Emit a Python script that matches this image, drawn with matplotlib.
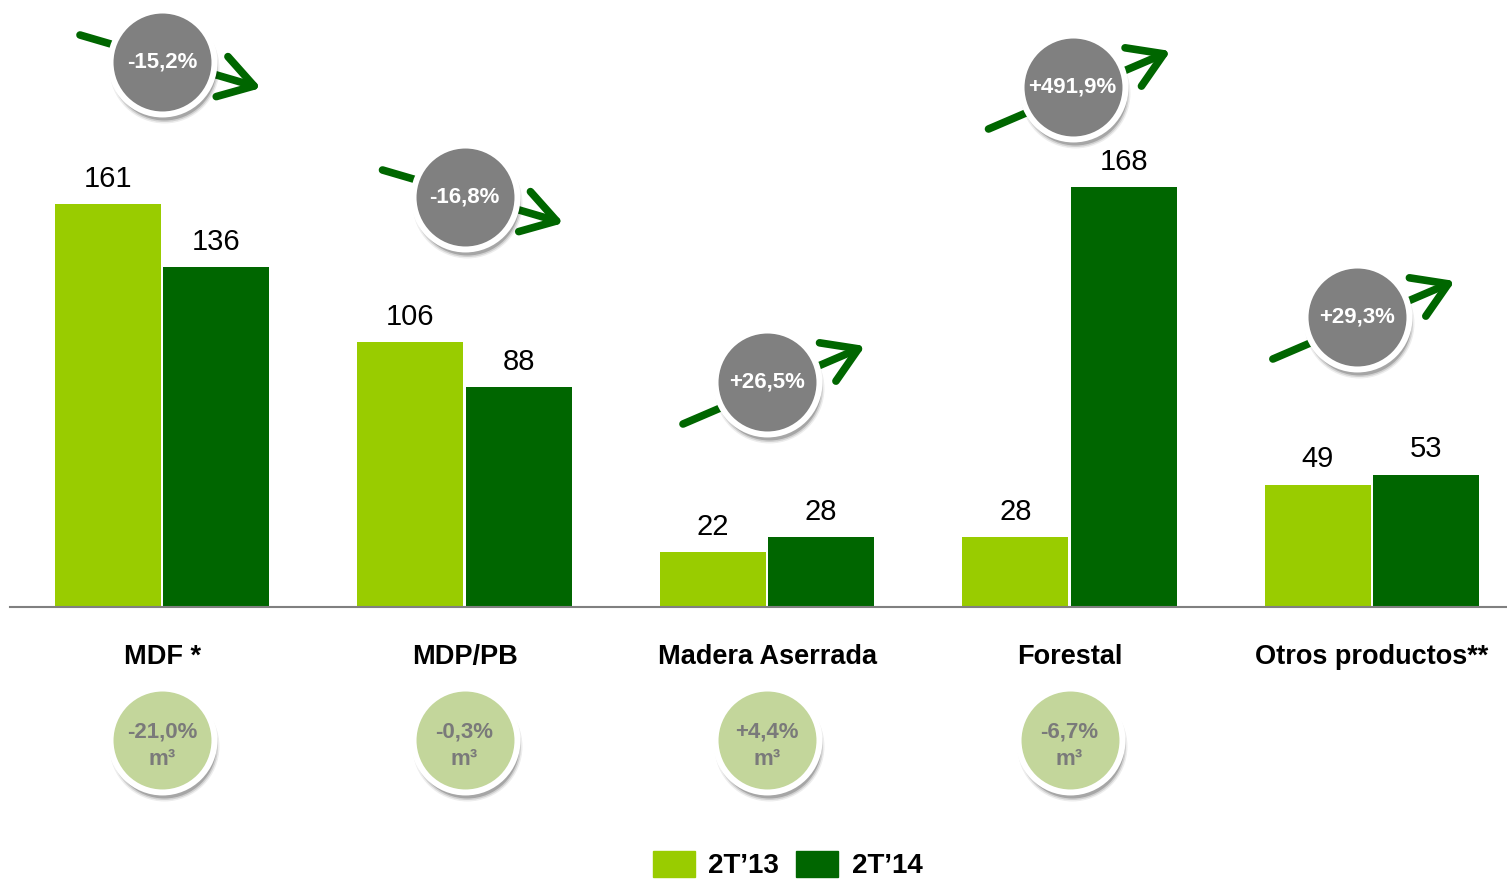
import numpy as np
import matplotlib

matplotlib.use("Agg")
import matplotlib.pyplot as plt
from matplotlib.patches import Patch

categories = ["MDF *", "MDP/PB", "Madera Aserrada", "Forestal", "Otros productos**"]
q2_13 = [161, 106, 22, 28, 49]
q2_14 = [136, 88, 28, 168, 53]
value_change = ["-15,2%", "-16,8%", "+26,5%", "+491,9%", "+29,3%"]
volume_change = ["-21,0%", "-0,3%", "+4,4%", "-6,7%"]  # no volume badge for Otros
series = ["2T\u201913", "2T\u201914"]

LIGHT, DARK = "#99CC00", "#006600"
GREY, PALE, TXT_GREY = "#808080", "#C3D69B", "#7A7A7A"

plt.rcParams["font.family"] = ["Liberation Sans", "DejaVu Sans"]

W, H = 1507, 880
fig = plt.figure(figsize=(W / 100, H / 100), dpi=100)
ax = fig.add_axes([0, 0, 1, 1])
# one group per 302.5 px, 2.5 px per unit; baseline sits 607 px from the top
PX_X, PX_Y = 1 / 302.5, 1 / 2.5
ax.set_xlim(-162 * PX_X, (W - 162) * PX_X)
ax.set_ylim(-(H - 607) * PX_Y, 607 * PX_Y)
ax.axis("off")

x = np.arange(len(categories))
bw, off = 0.35, 0.179
bars1 = ax.bar(x - off, q2_13, bw, color=LIGHT, zorder=2)
bars2 = ax.bar(x + off, q2_14, bw, color=DARK, zorder=2)
for bars in (bars1, bars2):
    ax.bar_label(bars, padding=8, fontsize=21)

ax.axhline(0, xmin=10 / W, color=GREY, lw=1.5, zorder=3)

for xi, name in zip(x, categories):
    ax.text(xi, -20, name, ha="center", va="center", fontsize=19.5, fontweight="bold")

# value-change badges with trend arrows
badge_lift = [57, 58, 62, 40, 63]      # above the taller bar
badge_dx = [0, 0, 0, 0.01, -0.05]
arrow_px = {"-": ((-82, -27), (99, 26)), "+": ((-84, 42), (98, -36))}

def badge(cx, cy, color, zo=5):
    # soft shadow then the disc with a white ring
    for k, a in ((1.12, 0.07), (1.06, 0.12), (1.0, 0.2)):
        ax.scatter(cx + 2 * PX_X, cy - 6 * PX_Y, s=5600 * k, color="black",
                   alpha=a, lw=0, zorder=zo - 1)
    ax.scatter(cx, cy, s=5600, color=color, edgecolor="white", lw=4.3, zorder=zo)

for xi, lab, lift, dx, a, b in zip(x, value_change, badge_lift, badge_dx, q2_13, q2_14):
    cx, cy = xi + dx, max(a, b) + lift
    (tx, ty), (hx, hy) = arrow_px[lab[0]]
    ax.annotate("", xy=(cx + hx * PX_X, cy - hy * PX_Y),
                xytext=(cx + tx * PX_X, cy - ty * PX_Y), zorder=3,
                arrowprops=dict(arrowstyle="->,head_length=1.2,head_width=0.75",
                                lw=5.5, color=DARK, mutation_scale=20,
                                shrinkA=0, shrinkB=0))
    badge(cx, cy, GREY)
    ax.text(cx, cy, lab, ha="center", va="center", color="white",
            fontsize=16, fontweight="bold", zorder=6)

# volume-change badges under the category names
for xi, lab in zip(x, volume_change):
    cy = -53
    badge(xi, cy, PALE)
    ax.text(xi, cy - 2.5, lab + "\nm\u00b3", ha="center", va="center", color=TXT_GREY,
            fontsize=16, fontweight="bold", linespacing=1.4, zorder=6)

fig.legend(handles=[Patch(color=LIGHT), Patch(color=DARK)], labels=series,
           loc="lower center", bbox_to_anchor=(0.5226, -0.012), ncol=2,
           frameon=False, prop={"weight": "bold", "size": 20},
           handlelength=1.5, handleheight=1.1, handletextpad=0.5,
           columnspacing=0.6, borderaxespad=0)

fig.savefig("out.png", dpi=100)
